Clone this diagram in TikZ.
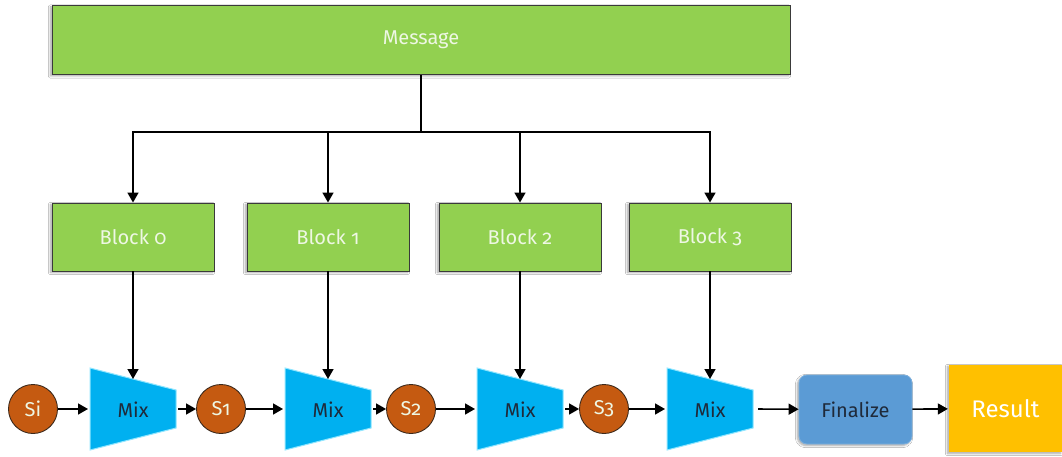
\documentclass[tikz,border=0pt]{standalone}
\usepackage{fontspec}
\setmainfont{Fira Sans}[Numbers=OldStyle]
\usetikzlibrary{arrows.meta,shadows.blur}
\definecolor{grn}{HTML}{92D050}
\definecolor{grntxt}{HTML}{EEF7E4}
\definecolor{edge}{HTML}{3A3A3A}
\definecolor{rust}{HTML}{C55A11}
\definecolor{rustedge}{HTML}{3D2A1C}
\definecolor{cyanfill}{HTML}{00B0F0}
\definecolor{cyanedge}{HTML}{8FE6FF}
\definecolor{finfill}{HTML}{5B9BD5}
\definecolor{resfill}{HTML}{FFC000}
\definecolor{darktxt}{HTML}{1F2A3A}
\tikzset{
  sh/.style={blur shadow={shadow xshift=-1.5pt,shadow yshift=-1.5pt,shadow opacity=35,shadow blur steps=6}},
  greenbox/.style={draw=edge,line width=0.9pt,fill=grn,text=grntxt,font=\fontsize{20}{24}\selectfont,sh},
  statenode/.style={circle,draw=rustedge,line width=0.9pt,fill=rust,text=grntxt,minimum size=49pt,inner sep=0pt,font=\fontsize{20}{24}\selectfont},
  mixstyle/.style={fill=cyanfill,draw=cyanedge,line width=1pt},
  mixtext/.style={text=darktxt,font=\fontsize{20}{24}\selectfont},
  finbox/.style={rounded corners=8pt,fill=finfill,draw=finfill!80!white,line width=0.8pt,text=darktxt,font=\fontsize{20}{24}\selectfont,sh},
  resbox/.style={fill=resfill,text=white,font=\fontsize{24}{28}\selectfont,sh},
  arr/.style={-{Triangle[length=10pt,width=11pt]},line width=1.6pt,black},
  ln/.style={line width=1.6pt,black},
  mixpic/.pic={
    \draw[mixstyle] (-43,-41) -- (43,-19) -- (43,19) -- (-43,41) -- cycle;
    \node[mixtext] (-c) at (0,1) {Mix};
    \coordinate (-top) at (0,-30);
    \coordinate (-left) at (-43,0);
    \coordinate (-right) at (43,0);
  }
}
\begin{document}
\begin{tikzpicture}[x=1pt,y=-1pt]
\useasboundingbox[fill=white] (0,0) rectangle (1062,457);
% top
\node[greenbox,minimum width=738pt,minimum height=69pt] (msg) at (421,40) {Message};
\coordinate (bus) at (421,132);
% blocks
\node[greenbox,minimum width=162pt,minimum height=68pt] (b0) at (133,237) {Block 0};
\node[greenbox,minimum width=162pt,minimum height=68pt] (b1) at (328,237) {Block 1};
\node[greenbox,minimum width=162pt,minimum height=68pt] (b2) at (520,237) {Block 2};
\node[greenbox,minimum width=162pt,minimum height=68pt] (b3) at (710,237) {Block 3};
% mixes
\pic (m1) at (133,409) {mixpic};
\pic (m2) at (328,409) {mixpic};
\pic (m3) at (520,409) {mixpic};
\pic (m4) at (710,409) {mixpic};
% states
\node[statenode] (si) at (33,409) {Si};
\node[statenode] (s1) at (221,409) {S1};
\node[statenode] (s2) at (411,409) {S2};
\node[statenode] (s3) at (604,409) {S3};
% final
\node[finbox,minimum width=113pt,minimum height=69pt] (fin) at (855.5,409.5) {Finalize};
\node[resbox,minimum width=113pt,minimum height=87pt] (res) at (1005.5,408.5) {Result};
% connectors
\draw[ln] (msg.south) -- (bus);
\draw[arr] (bus) -| (b0.north);
\draw[arr] (bus) -| (b1.north);
\draw[arr] (bus) -| (b2.north);
\draw[arr] (bus) -| (b3.north);
\draw[arr] (b0.south) -- (m1-top);
\draw[arr] (b1.south) -- (m2-top);
\draw[arr] (b2.south) -- (m3-top);
\draw[arr] (b3.south) -- (m4-top);
\draw[arr,shorten >=2pt] (si) -- (m1-left);
\draw[arr,shorten <=2pt] (m1-right) -- (s1);
\draw[arr,shorten >=2pt] (s1) -- (m2-left);
\draw[arr,shorten <=2pt] (m2-right) -- (s2);
\draw[arr,shorten >=2pt] (s2) -- (m3-left);
\draw[arr,shorten <=2pt] (m3-right) -- (s3);
\draw[arr,shorten >=2pt] (s3) -- (m4-left);
\draw[arr,shorten <=5pt] (m4-right) -- (fin);
\draw[arr,shorten >=1pt] (fin) -- (res);
\end{tikzpicture}
\end{document}
